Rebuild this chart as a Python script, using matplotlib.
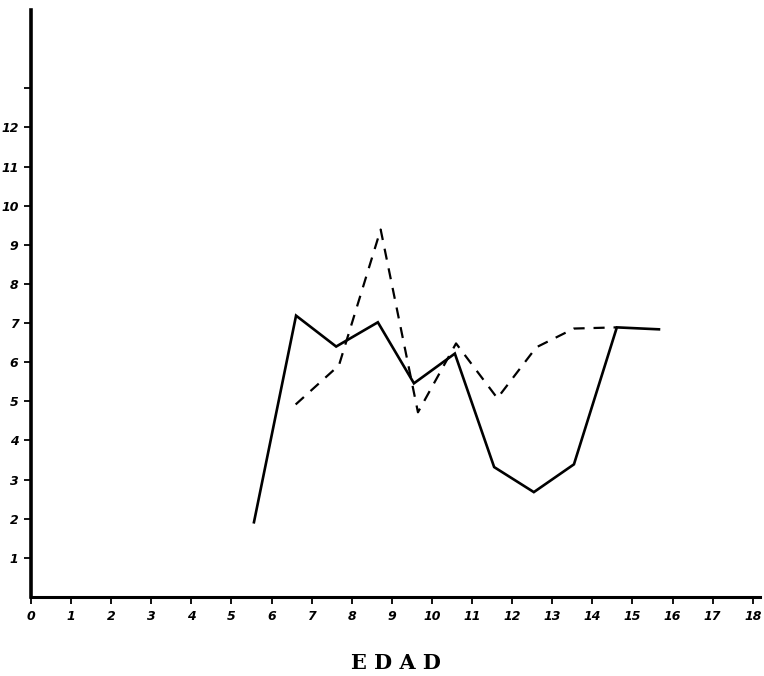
import matplotlib
matplotlib.use("Agg")
import matplotlib.pyplot as plt

# Data
solid_x = [5.56, 6.61, 7.61, 8.65, 9.55, 10.57, 11.55, 12.54, 13.54, 14.61, 15.66]
solid_y = [1.91, 7.19, 6.40, 7.02, 5.46, 6.22, 3.32, 2.68, 3.39, 6.89, 6.84]
dashed_x = [6.6, 7.68, 8.72, 9.65, 10.6, 11.63, 12.6, 13.54, 14.61]
dashed_y = [4.92, 5.92, 9.39, 4.72, 6.48, 5.08, 6.38, 6.86, 6.89]

x_ticks = list(range(0, 19))
x_labels = [str(v) for v in x_ticks]
y_ticks = list(range(1, 14))
y_labels = [str(v) for v in range(1, 13)] + [""]
x_title = "E D A D"

fig = plt.figure(figsize=(7.64, 6.76), dpi=100)
ax = fig.add_axes([31/764, 79/676, 729/764, 587/676])

ax.plot(solid_x, solid_y, color="black", lw=1.9, solid_joinstyle="miter")
ax.plot(dashed_x, dashed_y, color="black", lw=1.6, linestyle=(0, (5, 4)))

ax.set_xlim(0, 18.18)
ax.set_ylim(0, 15)
for s in ["top", "right"]:
    ax.spines[s].set_visible(False)
ax.spines["left"].set_linewidth(2.6)
ax.spines["bottom"].set_linewidth(2.2)

ax.set_xticks(x_ticks)
ax.set_xticklabels(x_labels, fontsize=9, fontweight="bold", fontstyle="italic")
ax.set_yticks(y_ticks)
ax.set_yticklabels(y_labels, fontsize=9, fontweight="bold", fontstyle="italic")
ax.tick_params(axis="both", length=5, width=1.3, direction="out", pad=4)

ax.set_xlabel(x_title, fontsize=15, fontweight="bold", family="DejaVu Serif", labelpad=22)

fig.savefig("out.png", dpi=100)
